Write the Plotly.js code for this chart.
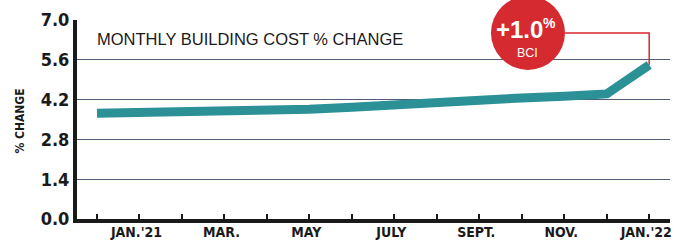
<!DOCTYPE html>
<html>
<head>
<meta charset="utf-8">
<script src="https://cdn.plot.ly/plotly-3.0.1.min.js"></script>
<style>html,body{margin:0;padding:0;background:#fff;}#chart{width:675px;height:248px;}</style>
</head>
<body>
<div id="chart"></div>
<script>
// Month index 0 = Dec '20 ... 13 = Jan '22
const months = [0,1,2,3,4,5,6,7,8,9,10,11,12,13];
const values = [3.72,3.74,3.76,3.78,3.81,3.86,3.93,4.03,4.13,4.19,4.26,4.32,4.40,5.42];
const tickLabels = ['', "JAN.'21", '', 'MAR.', '', 'MAY', '', 'JULY', '', 'SEPT.', '', 'NOV.', '', "JAN.'22"];
const yTicks = [0, 1.4, 2.8, 4.2, 5.6, 7.0];
const chartTitle = 'MONTHLY BUILDING COST % CHANGE';
const yTitle = '% CHANGE';
const badgeValue = '+1.0';
const badgeUnit = '%';
const badgeLabel = 'BCI';

const narrow = '"Liberation Sans Narrow", "DejaVu Sans Condensed", "Arial Narrow", sans-serif';
const sans = '"Liberation Sans", Arial, Helvetica, sans-serif';
const last = months.length - 1;

const trace = {
  x: months, y: values, type: 'scatter', mode: 'lines',
  line: {color: '#2b9196', width: 9},
  hoverinfo: 'skip'
};

const layout = {
  width: 675, height: 248,
  margin: {l: 77, r: 5, t: 20, b: 29},
  paper_bgcolor: '#ffffff', plot_bgcolor: '#ffffff',
  showlegend: false,
  xaxis: {
    range: [-0.47, 13.49],
    tickmode: 'array', tickvals: months, ticktext: tickLabels,
    ticks: 'inside', ticklen: 5, tickwidth: 2, tickcolor: '#1a1a1a',
    showline: true, linewidth: 4, linecolor: '#1a1a1a',
    showgrid: false, zeroline: false,
    ticklabeloverflow: 'allow', ticklabelstandoff: -3, ticklabelshift: -3,
    tickfont: {family: narrow, size: 14, color: '#1a1a1a', weight: 'bold'},
    fixedrange: true
  },
  yaxis: {
    range: [0, 7],
    tickmode: 'array', tickvals: yTicks, ticktext: yTicks.map(v => v.toFixed(1)),
    ticks: '', showline: true, linewidth: 4, linecolor: '#1a1a1a',
    showgrid: true, gridcolor: '#555a78', gridwidth: 1,
    zeroline: false,
    tickfont: {family: narrow, size: 18, color: '#1a1a1a', weight: 'bold'},
    fixedrange: true
  },
  shapes: [
    {type: 'path', xref: 'x', yref: 'y', layer: 'below',
     path: 'M 11.02,6.54 H ' + months[last] + ' V ' + values[last],
     line: {color: '#d9262c', width: 1.5}},
    {type: 'circle', xref: 'paper', yref: 'paper', layer: 'above',
     xsizemode: 'pixel', ysizemode: 'pixel',
     xanchor: 0.7605, yanchor: 0.935, x0: -37, x1: 37, y0: -37, y1: 37,
     fillcolor: '#d42a30', line: {width: 0}}
  ],
  annotations: [
    {text: chartTitle, xref: 'paper', yref: 'paper', x: 0.0304, y: 0.905,
     xanchor: 'left', yanchor: 'middle', showarrow: false,
     font: {family: sans, size: 16.5, color: '#1a1a1a'}},
    {text: yTitle, xref: 'paper', yref: 'paper', x: -0.096, y: 0.49,
     xanchor: 'center', yanchor: 'middle', showarrow: false, textangle: -90,
     font: {family: narrow, size: 12, color: '#1a1a1a', weight: 'bold'}},
    {text: badgeValue, xref: 'paper', yref: 'paper', x: 0.747, y: 0.950,
     xanchor: 'center', yanchor: 'middle', showarrow: false,
     font: {family: sans, size: 24, color: '#ffffff', weight: 'bold'}},
    {text: badgeUnit, xref: 'paper', yref: 'paper', x: 0.797, y: 0.985,
     xanchor: 'center', yanchor: 'middle', showarrow: false,
     font: {family: sans, size: 14, color: '#ffffff', weight: 'bold'}},
    {text: badgeLabel, xref: 'paper', yref: 'paper', x: 0.7605, y: 0.834,
     xanchor: 'center', yanchor: 'middle', showarrow: false,
     font: {family: sans, size: 12.5, color: '#ffffff'}}
  ]
};

Plotly.newPlot('chart', [trace], layout, {displayModeBar: false, staticPlot: true});
</script>
</body>
</html>
